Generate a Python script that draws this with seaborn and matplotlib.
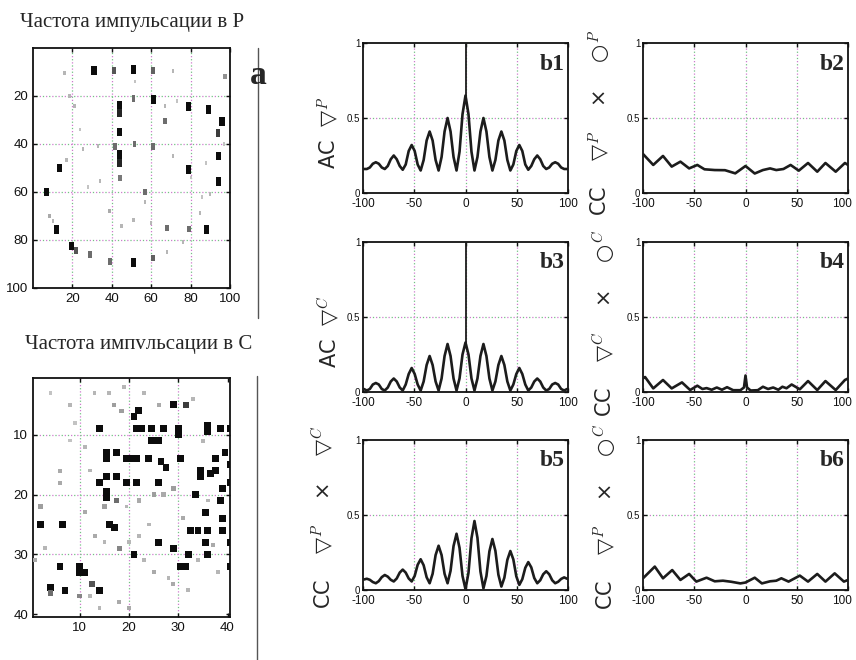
import numpy as np
import matplotlib
matplotlib.use("Agg")
import matplotlib.pyplot as plt
from matplotlib.lines import Line2D
from matplotlib.transforms import ScaledTranslation
import seaborn as sns

# ---------------------------------------------------------------- data
# sample lags (ms) shared by the strongly oscillating curves: 17.5 ms cycle, 6 samples per cycle
LAG = np.arange(-34, 35) * 17.5 / 6

AC_P = [0.16, 0.16, 0.17, 0.195, 0.205, 0.195, 0.17, 0.16, 0.18, 0.225, 0.25, 0.225,
        0.18, 0.155, 0.19, 0.28, 0.32, 0.28, 0.19, 0.15, 0.22, 0.35, 0.41, 0.35,
        0.22, 0.15, 0.24, 0.41, 0.50, 0.41, 0.24, 0.15, 0.275, 0.525,
        0.65,
        0.525, 0.275, 0.15, 0.24, 0.41, 0.50, 0.41, 0.24, 0.15, 0.22, 0.35, 0.41,
        0.35, 0.22, 0.15, 0.19, 0.28, 0.32, 0.28, 0.19, 0.155, 0.18, 0.225, 0.25,
        0.225, 0.18, 0.16, 0.17, 0.195, 0.205, 0.195, 0.17, 0.16, 0.16]
AC_P_SPIKE = 1.0

AC_C = [0.02, 0.01, 0.02, 0.05, 0.06, 0.05, 0.02, 0.01, 0.03, 0.07, 0.09, 0.07,
        0.03, 0.01, 0.05, 0.12, 0.16, 0.12, 0.05, 0.01, 0.07, 0.18, 0.24, 0.18,
        0.07, 0.01, 0.09, 0.24, 0.32, 0.24, 0.09, 0.01, 0.09, 0.25,
        0.33,
        0.25, 0.09, 0.01, 0.09, 0.24, 0.32, 0.24, 0.09, 0.01, 0.07, 0.18, 0.24,
        0.18, 0.07, 0.01, 0.05, 0.12, 0.16, 0.12, 0.05, 0.01, 0.03, 0.07, 0.09,
        0.07, 0.03, 0.01, 0.02, 0.05, 0.06, 0.05, 0.02, 0.01, 0.02]
AC_C_SPIKE = 1.0

CC_PC = [0.07, 0.075, 0.068, 0.053, 0.045, 0.059, 0.086, 0.10, 0.089, 0.068, 0.057, 0.077,
         0.116, 0.136, 0.116, 0.077, 0.057, 0.094, 0.168, 0.205, 0.165, 0.085, 0.045, 0.108,
         0.233, 0.295, 0.233, 0.108, 0.045, 0.128, 0.293, 0.375, 0.281, 0.094,
         0.005,
         0.115, 0.345, 0.46, 0.348, 0.123, 0.011, 0.093, 0.258, 0.34, 0.261, 0.102, 0.023,
         0.082, 0.201, 0.26, 0.204, 0.091, 0.034, 0.072, 0.148, 0.186, 0.151, 0.08, 0.045,
         0.065, 0.105, 0.125, 0.105, 0.065, 0.045, 0.055, 0.074, 0.084, 0.075]

# weak cross-correlations, read at their peaks and troughs
CC_PO_LAG = [-100, -90, -80.5, -72, -63.5, -55, -47, -40, -30, -20, -10, 0, 9, 17, 24,
             30, 37, 44, 52, 61, 70, 78, 88, 97, 100]
CC_PO = [0.26, 0.187, 0.247, 0.176, 0.209, 0.164, 0.187, 0.158, 0.153, 0.152, 0.131, 0.18,
         0.13, 0.153, 0.164, 0.153, 0.16, 0.187, 0.149, 0.20, 0.142, 0.20, 0.142, 0.20, 0.187]

CC_CO_LAG = [-100, -98, -90, -80.5, -72, -62, -54, -47, -42, -38, -33, -28, -23, -18, -12,
             -5, -1.5, 0, 1.5, 5, 12, 17, 22, 27, 32, 36, 40, 45, 53, 61, 70, 78, 88, 97, 100]
CC_CO = [0.09, 0.10, 0.024, 0.08, 0.024, 0.064, 0.013, 0.042, 0.02, 0.026, 0.015, 0.03,
         0.015, 0.032, 0.012, 0.012, 0.03, 0.11, 0.03, 0.01, 0.012, 0.035, 0.02, 0.03,
         0.015, 0.035, 0.025, 0.05, 0.018, 0.073, 0.013, 0.073, 0.013, 0.08, 0.09]

CC_PCO_LAG = [-100, -88.5, -80.5, -71.5, -63.5, -55, -48, -38, -30, -22, -14, -5, 0, 9, 16,
              24, 30, 35, 42, 53, 61, 70, 78, 87, 96, 100]
CC_PCO = [0.078, 0.156, 0.078, 0.133, 0.067, 0.107, 0.056, 0.082, 0.058, 0.062, 0.055,
          0.044, 0.05, 0.082, 0.044, 0.058, 0.062, 0.078, 0.056, 0.096, 0.056, 0.107,
          0.056, 0.111, 0.056, 0.067]

# firing-rate map of P cells (100 x 100), blob position and darkness
P_X = [31, 41, 51, 61, 71, 97.5, 51, 61, 44, 44, 79, 89, 96, 67, 44, 94, 41.5, 51.5, 61,
       94, 44, 44, 13.5, 79, 94, 44, 34, 7, 57, 39, 12, 68, 79, 88, 19.5, 22, 29, 39, 51,
       61, 16, 18.5, 21, 23.7, 25.4, 33, 17, 8.5, 71, 84.7, 76, 68, 67, 90, 51, 60, 73,
       86, 52, 28, 45, 80, 88, 97, 10, 57]
P_Y = [9.5, 9.5, 9, 9.5, 9.5, 12, 21, 21.5, 24, 27, 24.5, 25.5, 30.5, 30.5, 35, 35.5, 41,
       40, 41, 45, 44.5, 48, 50, 50.5, 55.5, 54, 55.5, 60, 60, 68, 75.5, 75, 75.5, 75.5,
       82.5, 84.5, 86, 89, 89.5, 87.5, 10.5, 20, 24, 34, 42, 41, 46.5, 70, 45, 68.8, 81,
       85, 24, 61, 71.5, 73, 22, 62, 14, 58, 74, 54, 48, 40, 72, 64]
P_V = [1.0, 0.7, 1.0, 0.65, 0.3, 0.45, 0.6, 1.0, 1.0, 0.9, 1.0, 1.0, 1.0, 0.6, 1.0, 0.8,
       0.6, 0.6, 0.6, 1.0, 1.0, 0.9, 1.0, 1.0, 1.0, 0.55, 0.3, 1.0, 0.6, 0.35, 1.0, 0.6,
       0.6, 1.0, 1.0, 0.7, 0.6, 0.6, 1.0, 0.65, 0.3, 0.3, 0.3, 0.25, 0.3, 0.3, 0.3, 0.35,
       0.3, 0.3, 0.3, 0.3, 0.3, 0.3, 0.3, 0.3, 0.25, 0.25, 0.25, 0.25, 0.3, 0.25, 0.25,
       0.25, 0.3, 0.3]

# firing-rate map of C cells (40 x 40)
C_X = [29, 31.5, 21, 22, 14, 21.5, 22.5, 24.5, 27, 30, 30, 36, 36, 38.5, 40.5, 24.5, 26,
       15.5, 15.5, 17.5, 19.5, 20.5, 21.5, 24, 26.5, 27.5, 30.5, 37.5, 39.5, 40.5, 34.5,
       34.5, 36.5, 37.5, 40.5, 14, 15.5, 17.5, 19.5, 21.5, 26, 15.5, 15.5, 33.5, 39, 38.5,
       17.5, 35.5, 39, 2, 6.5, 16, 17, 32.5, 34, 36, 39, 26, 35.5, 40.5, 18, 29, 21, 32,
       36, 40.5, 6, 10, 10, 11, 30.5, 31.5, 4, 4, 7, 12.5, 14,
       10, 2, 6, 6, 11, 8, 4, 13, 16, 19, 23, 17, 18.5, 9, 11, 12, 15, 19.5, 22, 25, 27,
       29, 31, 24, 22, 13, 15, 20, 23, 25, 28, 29, 18, 20, 14, 12, 34, 37, 32, 1, 3, 8,
       33, 26, 35, 36, 38]
C_Y = [5, 5, 7, 6, 9, 9, 9, 9, 9, 9, 10, 8.5, 9.5, 9, 9, 11, 11, 13, 14, 13, 14, 14, 14,
       14, 14.5, 15.5, 14, 14, 13, 15, 16, 17, 16.5, 16, 18, 18, 17, 17, 18, 18, 18, 19.5,
       20.5, 20, 19, 21, 21, 23, 24, 25, 25, 25, 25.5, 26, 26, 26, 26, 28, 28, 28, 29, 29,
       30, 30, 30, 32, 32, 32, 33, 33, 32, 32, 35.5, 36.5, 36, 35, 36,
       37, 22, 16, 18, 23, 5, 3, 3, 3, 2, 3, 5, 6, 8, 12, 16, 22, 22, 21, 20, 20, 19, 24,
       25, 27, 27, 28, 28, 31, 33, 34, 35, 38, 39, 39, 37, 31, 28.5, 36, 31, 29, 11, 4, 5,
       11, 21, 33]
C_V = [1.0, 0.8, 1.0, 1.0, 1.0, 1.0, 1.0, 1.0, 1.0, 1.0, 1.0, 1.0, 1.0, 1.0, 1.0, 1.0,
       1.0, 1.0, 1.0, 1.0, 1.0, 1.0, 1.0, 1.0, 1.0, 1.0, 1.0, 1.0, 1.0, 1.0, 1.0, 1.0, 1.0,
       1.0, 1.0, 1.0, 1.0, 1.0, 1.0, 1.0, 1.0, 1.0, 1.0, 1.0, 1.0, 1.0, 0.6, 1.0, 1.0, 1.0,
       1.0, 1.0, 1.0, 1.0, 1.0, 1.0, 1.0, 1.0, 1.0, 1.0, 0.5, 1.0, 1.0, 1.0, 1.0, 1.0, 1.0,
       1.0, 1.0, 1.0, 1.0, 1.0, 1.0, 0.6, 1.0, 0.7, 1.0,
       0.5, 0.4, 0.35, 0.35, 0.35, 0.3, 0.25, 0.3, 0.3, 0.3, 0.3, 0.4, 0.4, 0.25, 0.3, 0.3,
       0.4, 0.3, 0.35, 0.4, 0.35, 0.4, 0.35, 0.3, 0.3, 0.35, 0.3, 0.3, 0.3, 0.35, 0.3,
       0.35, 0.35, 0.35, 0.3, 0.3, 0.3, 0.35, 0.3, 0.35, 0.3, 0.25, 0.3, 0.35, 0.3, 0.3, 0.3]

TITLE_P = "Частота импульсации в Р"
TITLE_C = "Частота импvльсации в С"

B_PANELS = [
    ("b1", LAG, AC_P, "AC  ▽$^{P}$", AC_P_SPIKE),
    ("b2", CC_PO_LAG, CC_PO, "CC    ▽$^{P}$    ×    ○$^{P}$", None),
    ("b3", LAG, AC_C, "AC  ▽$^{C}$", AC_C_SPIKE),
    ("b4", CC_CO_LAG, CC_CO, "CC    ▽$^{C}$    ×    ○$^{C}$", None),
    ("b5", LAG, CC_PC, "CC    ▽$^{P}$    ×    ▽$^{C}$", None),
    ("b6", CC_PCO_LAG, CC_PCO, "CC    ▽$^{P}$    ×    ○$^{C}$", None),
]

# ---------------------------------------------------------------- style
sns.set_style("ticks")
plt.rcParams["font.family"] = ["Liberation Sans", "DejaVu Sans"]
plt.rcParams["mathtext.fontset"] = "cm"
plt.rcParams["axes.unicode_minus"] = False
plt.rcParams["xtick.direction"] = "in"
plt.rcParams["ytick.direction"] = "in"

W, H = 856, 660
fig = plt.figure(figsize=(W / 100, H / 100), dpi=100)


def px_axes(left, top, right, bottom):
    return fig.add_axes([left / W, 1 - bottom / H, (right - left) / W, (bottom - top) / H])


def matlab_grid(ax, xs, ys):
    # coloured dotted grid as in the scanned MATLAB figure
    for v in xs:
        ax.axvline(v, color="#d07ad0", lw=0.9, ls=(0, (1, 4)), zorder=0)
        ax.axvline(v, color="#72c282", lw=0.9, ls=(2.5, (1, 4)), zorder=0)
    for v in ys:
        ax.axhline(v, color="#d07ad0", lw=0.9, ls=(0, (1, 4)), zorder=0)
        ax.axhline(v, color="#72c282", lw=0.9, ls=(2.5, (1, 4)), zorder=0)


def frame(ax):
    for sp in ax.spines.values():
        sp.set_visible(True)
        sp.set_linewidth(1.3)
        sp.set_color("#111111")
    ax.tick_params(top=True, right=True, length=3, width=1, colors="#111111")


# ---------------------------------------------------------------- panel a
BLOB = [(-0.6, -1), (0.6, -1), (0.6, 1), (-0.6, 1)]

ax = px_axes(33, 48, 230, 288)
matlab_grid(ax, [20, 40, 60, 80], [20, 40, 60, 80])
sns.scatterplot(x=P_X, y=P_Y, hue=P_V, palette="gray_r", hue_norm=(0, 1.05),
                size=P_V, sizes=(6, 40), size_norm=(0.25, 1),
                marker=BLOB, linewidth=0, legend=False, ax=ax, zorder=3)
ax.set_xlim(0, 100)
ax.set_ylim(100, 0)
ax.set_xticks([20, 40, 60, 80, 100])
ax.set_yticks([20, 40, 60, 80, 100])
frame(ax)
ax.tick_params(labelsize=9.5)

ax = px_axes(33, 378, 230, 617)
matlab_grid(ax, [10, 20, 30], [10, 20, 30])
sns.scatterplot(x=C_X, y=C_Y, hue=C_V, palette="gray_r", hue_norm=(0, 1.05),
                size=C_V, sizes=(6, 24), size_norm=(0.25, 1),
                marker="s", linewidth=0, legend=False, ax=ax, zorder=3)
ax.set_xlim(0.5, 40.5)
ax.set_ylim(40.5, 0.5)
ax.set_xticks([10, 20, 30, 40])
ax.set_yticks([10, 20, 30, 40])
frame(ax)
ax.tick_params(labelsize=9.5)

fig.text(20 / W, 1 - 22 / H, TITLE_P, family="Liberation Serif", fontsize=15,
         ha="left", va="center")
fig.text(25 / W, 1 - 344 / H, TITLE_C, family="Liberation Serif", fontsize=15,
         ha="left", va="center")
fig.text(250 / W, 1 - 84 / H, "a", family="Liberation Serif", fontweight="bold",
         fontsize=24, ha="left", va="baseline")
fig.add_artist(Line2D([258 / W, 258 / W], [1 - 48 / H, 1 - 318 / H], color="#555555", lw=1))
fig.add_artist(Line2D([257 / W, 257 / W], [1 - 376 / H, 0], color="#555555", lw=1))

# ---------------------------------------------------------------- panels b
cols = [(363, 568), (643, 848)]
rows = [(43, 193), (242, 392), (440, 590)]
label_xy = [(-0.10, 0.40), (-0.14, 0.47), (-0.10, 0.40),
            (-0.125, 0.46), (-0.13, 0.49), (-0.12, 0.49)]

for i, (tag, lag, vals, ylab, spike) in enumerate(B_PANELS):
    left, right = cols[i % 2]
    top, bottom = rows[i // 2]
    ax = px_axes(left, top, right, bottom)
    matlab_grid(ax, [-50, 0, 50], [0.5])
    sns.lineplot(x=lag, y=vals, ax=ax, color="#1c1c1c", linewidth=1.9, zorder=3)
    if spike is not None:
        i0 = int(np.argmin(np.abs(np.asarray(lag))))
        ax.vlines(lag[i0], vals[i0], spike, color="#1c1c1c", lw=1.3, zorder=3)
    ax.set_xlim(-100, 100)
    ax.set_ylim(0, 1)
    ax.set_xticks([-100, -50, 0, 50, 100])
    ax.set_xticklabels(["-100", "-50", "0", "50", "100"])
    ax.set_yticks([0, 0.5, 1])
    ax.set_yticklabels(["0", "0.5", "1"])
    frame(ax)
    ax.tick_params(axis="x", labelsize=8.5)
    ax.tick_params(axis="y", labelsize=7, pad=2)
    if i % 2 == 1:
        last = ax.get_xticklabels()[-1]
        last.set_transform(last.get_transform() + ScaledTranslation(-6 / 100, 0, fig.dpi_scale_trans))
    ax.set_ylabel(ylab, fontsize=15, family="DejaVu Sans")
    ax.yaxis.set_label_coords(*label_xy[i])
    ax.text(0.985, 0.93, tag, transform=ax.transAxes, ha="right", va="top",
            family="Liberation Serif", fontweight="bold", fontsize=17)

fig.savefig("out.png", dpi=100)
